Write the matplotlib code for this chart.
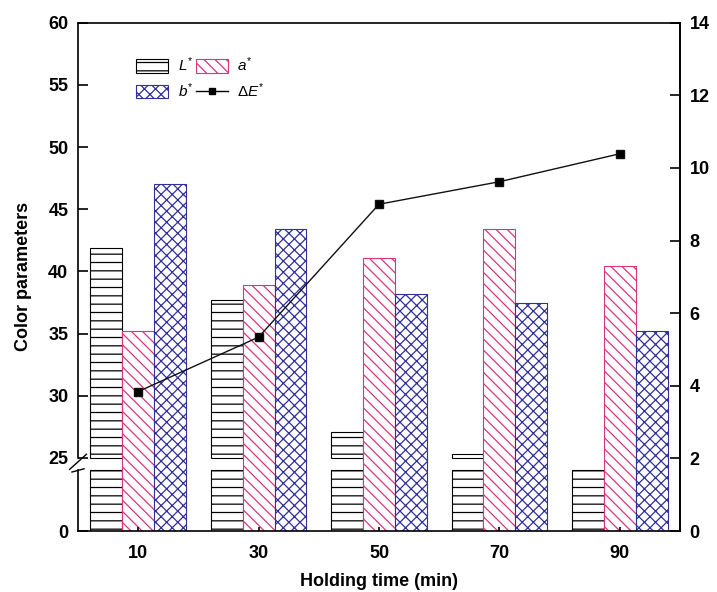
import numpy as np
import matplotlib
matplotlib.use('Agg')
from matplotlib import pyplot as plt
from matplotlib.patches import Patch
from matplotlib.lines import Line2D
import matplotlib.transforms as mtransforms

plt.rcParams['font.family'] = ['Liberation Sans', 'DejaVu Sans']
plt.rcParams['font.weight'] = 'bold'
plt.rcParams['mathtext.fontset'] = 'custom'
plt.rcParams['mathtext.rm'] = 'Liberation Sans:weight=normal'
plt.rcParams['mathtext.it'] = 'Liberation Sans:style=italic:weight=normal'
plt.rcParams['hatch.linewidth'] = 0.9

# data
times = [10, 30, 50, 70, 90]
L_star = [41.9, 37.7, 27.1, 25.3, 24.5]
a_star = [35.2, 38.9, 41.1, 43.4, 40.4]
b_star = [47.0, 43.4, 38.2, 37.5, 35.2]
delta_E = [3.84, 5.34, 9.0, 9.62, 10.39]

y_ticks = [0, 25, 30, 35, 40, 45, 50, 55, 60]
y2_ticks = [0, 2, 4, 6, 8, 10, 12, 14]

PINK = '#d8357f'
BLUE = '#30309c'

# broken left axis: 0..24 squeezed at bottom, 24..25 is the gap, 25..60 on top
BRK_LO, BRK_HI = 24, 25
P1, P2, PTOP = 61.0, 73.0, 508.3
S_LO = P1 / BRK_LO
S_GAP = (P2 - P1) / (BRK_HI - BRK_LO)
S_HI = (PTOP - P2) / (60 - BRK_HI)


def fwd(v):
    v = np.asarray(v, dtype=float)
    return np.where(v < BRK_LO, v * S_LO,
                    np.where(v < BRK_HI, P1 + (v - BRK_LO) * S_GAP,
                             P2 + (v - BRK_HI) * S_HI))


def inv(p):
    p = np.asarray(p, dtype=float)
    return np.where(p < P1, p / S_LO,
                    np.where(p < P2, BRK_LO + (p - P1) / S_GAP,
                             BRK_HI + (p - P2) / S_HI))


fig = plt.figure(figsize=(7.17, 5.92), dpi=100)
ax = fig.add_axes([78 / 717, 61 / 592, 602 / 717, 508.3 / 592])
ax.set_yscale('function', functions=(fwd, inv))
ax.set_ylim(0, 60)
ax.set_xlim(0, 100)

w = 5.3
x = np.array(times, dtype=float)
L_low = [min(v, BRK_LO) for v in L_star]
up_idx = [i for i, v in enumerate(L_star) if v > BRK_HI]
x_up = [x[i] - w for i in up_idx]
L_up = [L_star[i] - BRK_HI for i in up_idx]

ax.bar(x - w, L_low, w, color='white', edgecolor='black', hatch='--', linewidth=0.8)
ax.bar(x_up, L_up, w, bottom=BRK_HI, color='white', edgecolor='black',
       hatch='--', linewidth=0.8)
ax.bar(x, a_star, w, color='white', edgecolor=PINK, hatch='\\\\\\', linewidth=0.8)
ax.bar(x + w, b_star, w, color='white', edgecolor=BLUE, hatch='xxx', linewidth=0.8)

ax.set_yticks(y_ticks)
ax.set_yticklabels([str(t) for t in y_ticks])
ax.set_xticks(times)
ax.tick_params(axis='y', direction='in', length=7, width=1.2, labelsize=13, pad=7)
ax.tick_params(axis='x', direction='in', length=3, width=1.2, labelsize=13, pad=10)
ax.tick_params(axis='y', which='minor', left=False)
# no tick mark at the break, only the label
ax.yaxis.get_major_ticks()[1].tick1line.set_visible(False)

for s in ['top', 'right', 'bottom']:
    ax.spines[s].set_linewidth(1.2)
ax.spines['left'].set_visible(False)
trans = mtransforms.blended_transform_factory(ax.transAxes, ax.transData)
ax.plot([0, 0], [0, BRK_LO], transform=trans, color='black', lw=1.2, clip_on=False)
ax.plot([0, 0], [BRK_HI, 60], transform=trans, color='black', lw=1.2, clip_on=False)
# break marks
ax.plot([-0.014, 0.014], [24.05, 25.3], transform=trans, color='black', lw=1.0, clip_on=False)
ax.plot([-0.010, 0.010], [23.2, 24.1], transform=trans, color='black', lw=1.0, clip_on=False)

ax.set_ylabel('Color parameters', fontsize=13, fontweight='bold')
ax.yaxis.set_label_coords(-0.076, 0.5)
ax.set_xlabel('Holding time (min)', fontsize=13, fontweight='bold')
ax.xaxis.set_label_coords(0.5, -0.082)

ax2 = ax.twinx()
ax2.plot(times, delta_E, color='#111111', lw=1.0, marker='s', markersize=6,
         markerfacecolor='black', zorder=5)
ax2.set_ylim(0, 14)
ax2.set_yticks(y2_ticks)
ax2.tick_params(axis='y', direction='in', length=7, width=1.2, labelsize=13, pad=7)
for s in ['left', 'top', 'bottom']:
    ax2.spines[s].set_visible(False)
ax2.spines['right'].set_linewidth(1.2)

handles = [
    Patch(facecolor='white', edgecolor='black', hatch='--', linewidth=0.8),
    Patch(facecolor='white', edgecolor=BLUE, hatch='xxx', linewidth=0.8),
    Patch(facecolor='white', edgecolor=PINK, hatch='\\\\\\', linewidth=0.8),
    Line2D([], [], color='black', lw=1.0, marker='s', markersize=5),
]
labels = ['$L^{*}$', '$b^{*}$', '$a^{*}$', r'$\Delta E^{*}$']
ax2.legend(handles, labels, ncol=2, loc='upper left', bbox_to_anchor=(0.097, 0.935),
           frameon=False, fontsize=11, handlelength=2.1, handleheight=1.0,
           handletextpad=0.6, columnspacing=0.2, labelspacing=0.45,
           borderpad=0, borderaxespad=0)

fig.savefig('out.png', dpi=100)
